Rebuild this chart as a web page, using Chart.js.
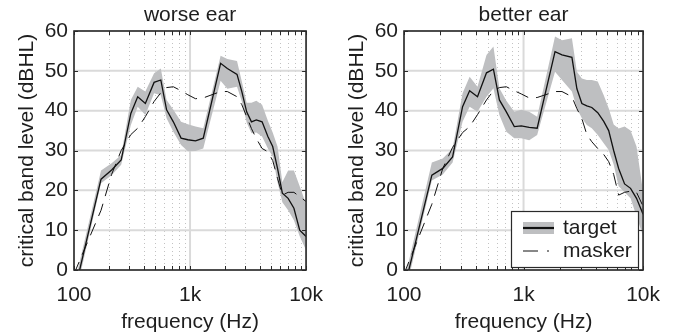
<!DOCTYPE html>
<html>
<head>
<meta charset="utf-8">
<script src="https://cdn.jsdelivr.net/npm/chart.js@4/dist/chart.umd.min.js"></script>
<style>
  html, body { margin: 0; padding: 0; background: #fff; }
  #wrap { position: relative; width: 673px; height: 333px; overflow: hidden; }
  canvas { position: absolute; top: 0; }
</style>
</head>
<body>
<div id="wrap">
  <canvas id="worse" width="336" height="333" style="left:0"></canvas>
  <canvas id="better" width="337" height="333" style="left:336px"></canvas>
</div>
<script>
// Band centre frequencies (Hz)
const freqHz = [100, 171, 211, 255, 309, 354, 412, 490, 560, 628, 718, 837, 957, 1115, 1300,
  1834, 2097, 2540, 2795, 3076, 3384, 3725, 4178, 4687, 5157, 5675, 6246, 7004, 7858, 8814, 10000];

// Worse ear: target mean, spread limits, masker (dBHL)
const worseTarget = [-6, 22.8, 25.1, 27.6, 39.3, 43.5, 41.8, 47.1, 47.7, 40.2, 37.2, 33.1, 32.7, 32.4, 33.1,
  51.9, 50.6, 49.1, 44.8, 39.7, 37.2, 37.7, 37.2, 33.5, 31.0, 25.5, 19.3, 18.0, 15.5, 10.0, 8.4];
const worseUpper = [-4, 25.0, 26.8, 28.9, 42.7, 46.0, 44.8, 49.4, 50.6, 42.7, 40.2, 37.2, 36.6, 36.0, 35.6,
  53.8, 53.0, 52.5, 47.3, 42.0, 42.0, 42.5, 41.5, 37.5, 34.5, 31.0, 22.0, 25.0, 25.0, 21.0, 16.5];
const worseLower = [-8, 21.8, 23.8, 26.4, 36.4, 41.0, 38.9, 44.4, 43.9, 38.1, 34.7, 31.4, 29.8, 29.9, 30.5,
  47.5, 45.5, 46.0, 42.3, 37.0, 34.3, 34.5, 33.5, 30.5, 28.5, 22.0, 17.0, 15.0, 12.5, 8.5, 5.0];
const worseMasker = [-1, 15.0, 24.0, 30.0, 34.0, 35.6, 38.5, 42.3, 44.5, 45.8, 46.0, 45.0, 44.0, 43.0, 43.2,
  44.8, 44.8, 43.5, 41.5, 38.5, 35.5, 33.0, 30.5, 29.7, 27.5, 23.0, 18.8, 19.5, 19.5, 18.4, 17.2];

// Better ear: target mean, spread limits, masker (dBHL)
const betterTarget = [-5, 23.8, 25.5, 28.4, 41.0, 45.0, 43.5, 49.5, 50.4, 42.7, 39.7, 36.0, 36.2, 35.8, 35.6,
  54.8, 54.0, 53.4, 45.5, 41.8, 41.2, 40.8, 39.5, 37.3, 35.0, 30.0, 25.5, 21.6, 20.5, 18.0, 14.0];
const betterUpper = [-3, 27.0, 28.0, 30.5, 44.4, 48.5, 46.0, 54.0, 56.1, 45.6, 42.5, 39.7, 40.2, 39.7, 38.5,
  58.6, 57.7, 58.2, 49.8, 48.1, 47.7, 47.7, 47.3, 43.9, 40.6, 36.5, 35.5, 36.0, 35.0, 31.0, 19.5];
const betterLower = [-7, 22.5, 24.0, 27.0, 37.2, 41.0, 39.7, 43.5, 45.6, 38.9, 34.7, 33.1, 33.1, 32.6, 33.9,
  49.8, 47.7, 44.8, 40.6, 38.1, 36.4, 35.6, 33.9, 31.8, 30.1, 26.5, 21.0, 19.5, 18.0, 13.5, 8.5];
const betterMasker = [-1, 16.5, 25.5, 30.8, 34.5, 36.0, 39.0, 42.7, 45.0, 45.8, 46.0, 45.0, 44.2, 43.2, 43.3,
  44.8, 44.8, 43.5, 40.5, 38.0, 34.0, 32.2, 30.5, 29.0, 27.2, 24.0, 18.8, 19.5, 19.8, 19.5, 16.0];

// Axis ticks
const yTickValues = [0, 10, 20, 30, 40, 50, 60];
const xTickValues = [100, 1000, 10000];
const xTickLabels = ['100', '1k', '10k'];
const xMinorValues = [200, 300, 400, 500, 600, 700, 800, 900, 2000, 3000, 4000, 5000, 6000, 7000, 8000, 9000];

const FONT = '"Liberation Sans", Arial, Helvetica, sans-serif';
const TEXT = '#1e1e1e';
const BAND = 'rgb(190,191,193)';
const MAJOR_GRID = '#dadada';
const MINOR_GRID = '#c2c2c2';
const AXIS = '#2a2a2a';

// Grid, box, inward ticks, title and (optionally) legend
const framePlugin = {
  id: 'frame',
  beforeDatasetsDraw(chart) {
    const { ctx, chartArea: a, scales: { x, y } } = chart;
    ctx.save();
    // dotted minor verticals
    ctx.strokeStyle = MINOR_GRID;
    ctx.lineWidth = 1;
    ctx.setLineDash([1, 3]);
    xMinorValues.forEach(v => {
      const px = Math.round(x.getPixelForValue(v)) + 0.5;
      ctx.beginPath(); ctx.moveTo(px, a.top); ctx.lineTo(px, a.bottom); ctx.stroke();
    });
    // solid major grid
    ctx.setLineDash([]);
    ctx.strokeStyle = MAJOR_GRID;
    ctx.lineWidth = 2;
    xTickValues.forEach(v => {
      const px = x.getPixelForValue(v);
      ctx.beginPath(); ctx.moveTo(px, a.top); ctx.lineTo(px, a.bottom); ctx.stroke();
    });
    yTickValues.forEach(v => {
      const py = y.getPixelForValue(v);
      ctx.beginPath(); ctx.moveTo(a.left, py); ctx.lineTo(a.right, py); ctx.stroke();
    });
    ctx.restore();
  },
  afterDatasetsDraw(chart, args, opts) {
    const { ctx, chartArea: a, scales: { x, y } } = chart;
    ctx.save();
    ctx.strokeStyle = AXIS;
    ctx.lineWidth = 1;
    const tl = 4;
    // inward ticks
    ctx.beginPath();
    xMinorValues.concat(xTickValues).forEach(v => {
      const px = Math.round(x.getPixelForValue(v)) + 0.5;
      ctx.moveTo(px, a.bottom); ctx.lineTo(px, a.bottom - tl);
      ctx.moveTo(px, a.top); ctx.lineTo(px, a.top + tl);
    });
    yTickValues.forEach(v => {
      const py = Math.round(y.getPixelForValue(v)) + 0.5;
      ctx.moveTo(a.left, py); ctx.lineTo(a.left + tl, py);
      ctx.moveTo(a.right, py); ctx.lineTo(a.right - tl, py);
    });
    ctx.stroke();
    // box
    ctx.lineWidth = 1.6;
    ctx.strokeRect(a.left, a.top, a.right - a.left, a.bottom - a.top);
    // title
    ctx.fillStyle = TEXT;
    ctx.font = '21px ' + FONT;
    ctx.textAlign = 'center';
    ctx.textBaseline = 'alphabetic';
    ctx.fillText(opts.title, (a.left + a.right) / 2, 21);

    if (opts.legend) {
      const L = opts.legend;
      ctx.fillStyle = '#fff';
      ctx.fillRect(L.left, L.top, L.width, L.height);
      ctx.strokeStyle = AXIS;
      ctx.lineWidth = 1.2;
      ctx.strokeRect(L.left + 0.5, L.top + 0.5, L.width, L.height);
      const sx = L.left + 12, sw = 31;
      const r1 = L.top + 17, r2 = L.top + 40;
      // target sample: band patch + line
      ctx.fillStyle = BAND;
      ctx.fillRect(sx, r1 - 6, sw, 12);
      ctx.strokeStyle = '#111';
      ctx.lineWidth = 2.2;
      ctx.beginPath(); ctx.moveTo(sx, r1); ctx.lineTo(sx + sw, r1); ctx.stroke();
      // masker sample: dash-dot
      ctx.lineWidth = 1;
      ctx.beginPath(); ctx.moveTo(sx, r2); ctx.lineTo(sx + 15, r2); ctx.stroke();
      ctx.beginPath(); ctx.moveTo(sx + 24, r2); ctx.lineTo(sx + 26, r2); ctx.stroke();
      ctx.fillStyle = TEXT;
      ctx.font = '21px ' + FONT;
      ctx.textAlign = 'left';
      ctx.textBaseline = 'middle';
      ctx.fillText('target', sx + sw + 9, r1);
      ctx.fillText('masker', sx + sw + 9, r2);
    }
    ctx.restore();
  }
};

function makeChart(id, title, target, upper, lower, masker, geom, legend) {
  const pts = arr => freqHz.map((f, i) => ({ x: f, y: arr[i] }));
  const common = { pointRadius: 0, tension: 0, clip: 0 };
  return new Chart(document.getElementById(id), {
    type: 'line',
    data: {
      datasets: [
        { ...common, label: 'target', data: pts(target), borderColor: '#111', borderWidth: 1.3, fill: false },
        { ...common, label: 'masker', data: pts(masker), borderColor: '#111', borderWidth: 1, borderDash: [13, 8], fill: false },
        { ...common, label: 'upper', data: pts(upper), borderColor: 'rgba(0,0,0,0)', borderWidth: 1, fill: false },
        { ...common, label: 'lower', data: pts(lower), borderColor: 'rgba(0,0,0,0)', borderWidth: 1, fill: '-1', backgroundColor: BAND }
      ]
    },
    options: {
      responsive: false,
      animation: false,
      devicePixelRatio: 1,
      layout: { padding: { top: 31, right: geom.padRight, left: 0, bottom: 0 } },
      plugins: {
        legend: { display: false },
        tooltip: { enabled: false },
        frame: { title: title, legend: legend }
      },
      scales: {
        x: {
          type: 'logarithmic', min: 100, max: 10000,
          afterBuildTicks: s => { s.ticks = xTickValues.map(v => ({ value: v })); },
          afterFit: s => { s.height = 63; },
          grid: { display: false, drawTicks: false },
          border: { display: false },
          ticks: {
            autoSkip: false, maxRotation: 0, padding: 13, color: TEXT,
            font: { family: FONT, size: 21 },
            callback: (v, i) => xTickLabels[i]
          },
          title: {
            display: true, text: 'frequency (Hz)', color: TEXT,
            font: { family: FONT, size: 21, lineHeight: 1 }, padding: { top: 0, bottom: 0 }
          }
        },
        y: {
          min: 0, max: 60,
          afterBuildTicks: s => { s.ticks = yTickValues.map(v => ({ value: v })); },
          afterFit: s => { s.width = geom.yWidth; },
          grid: { display: false, drawTicks: false },
          border: { display: false },
          ticks: { padding: 6, color: TEXT, font: { family: FONT, size: 21 } },
          title: {
            display: true, text: 'critical band level (dBHL)', color: TEXT,
            font: { family: FONT, size: 21, lineHeight: 1 }, padding: { top: geom.yTitlePad, bottom: 0 }
          }
        }
      }
    },
    plugins: [framePlugin]
  });
}

makeChart('worse', 'worse ear', worseTarget, worseUpper, worseLower, worseMasker,
  { padRight: 21, yWidth: 74, yTitlePad: 16.5 }, null);
makeChart('better', 'better ear', betterTarget, betterUpper, betterLower, betterMasker,
  { padRight: 28, yWidth: 68, yTitlePad: 10.5 },
  { left: 175, top: 211, width: 127, height: 56 });
</script>
</body>
</html>
